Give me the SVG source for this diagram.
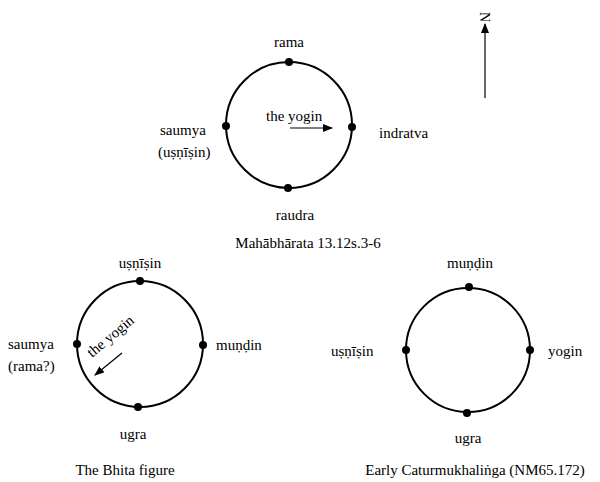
<svg xmlns="http://www.w3.org/2000/svg" width="600" height="482" viewBox="0 0 600 482" font-family="'Liberation Serif', 'Times New Roman', 'DejaVu Serif', serif" font-size="15">
<style>
text{font-family:'Liberation Serif','Times New Roman','DejaVu Serif',serif;font-size:15px;fill:#000}
.c{fill:none;stroke:#000;stroke-width:2}
.d{fill:#000}
.m{text-anchor:middle}
.a{stroke:#000;stroke-width:1.2;fill:none}
</style>
<defs><marker id="ah" markerWidth="10" markerHeight="8" refX="9" refY="4" orient="auto" markerUnits="userSpaceOnUse"><path d="M0,0 L10,4 L0,8 Z" fill="#000"/></marker></defs>
<rect width="600" height="482" fill="#fff"/>
<g id="north"><line class="a" x1="485" y1="98" x2="485" y2="24" marker-end="url(#ah)"/><text transform="translate(480,12) rotate(90)" style="font-size:14px">N</text></g>
<g id="fig1">
<circle class="c" cx="289" cy="125" r="63"/>
<circle class="d" cx="289" cy="62" r="4"/><circle class="d" cx="352" cy="127" r="4"/><circle class="d" cx="288" cy="188" r="4"/><circle class="d" cx="226" cy="126" r="4"/>
<text class="m" x="289" y="47">rama</text>
<text x="379" y="138">indratva</text>
<text class="m" x="295" y="220">raudra</text>
<text x="160" y="135">saumya</text><text x="158" y="157">(uṣṇīṣin)</text>
<text x="266" y="121">the yogin</text>
<line class="a" x1="290" y1="128" x2="332" y2="128" marker-end="url(#ah)"/>
<text class="m" x="308" y="248">Mahābhārata 13.12s.3-6</text>
</g>
<g id="fig2">
<circle class="c" cx="140" cy="344" r="63"/>
<circle class="d" cx="140" cy="281" r="4"/><circle class="d" cx="203" cy="345" r="4"/><circle class="d" cx="138" cy="407" r="4"/><circle class="d" cx="77" cy="344" r="4"/>
<text class="m" x="140" y="268">uṣṇīṣin</text>
<text x="216" y="350">muṇḍin</text>
<text x="8" y="349">saumya</text><text x="8" y="371">(rama?)</text>
<text class="m" x="133" y="439">ugra</text>
<text transform="translate(92,358) rotate(-40)">the yogin</text>
<line class="a" x1="122" y1="353" x2="95" y2="375" marker-end="url(#ah)"/>
<text class="m" x="125" y="475">The Bhita figure</text>
</g>
<g id="fig3">
<circle class="c" cx="468" cy="350" r="62"/>
<circle class="d" cx="469" cy="287" r="4"/><circle class="d" cx="530" cy="350" r="4"/><circle class="d" cx="467" cy="413" r="4"/><circle class="d" cx="406" cy="350" r="4"/>
<text class="m" x="470" y="268">muṇḍin</text>
<text x="548" y="356">yogin</text>
<text x="331" y="356">uṣṇīṣin</text>
<text class="m" x="468" y="443">ugra</text>
<text class="m" x="475" y="475">Early Caturmukhaliṅga (NM65.172)</text>
</g>
</svg>
